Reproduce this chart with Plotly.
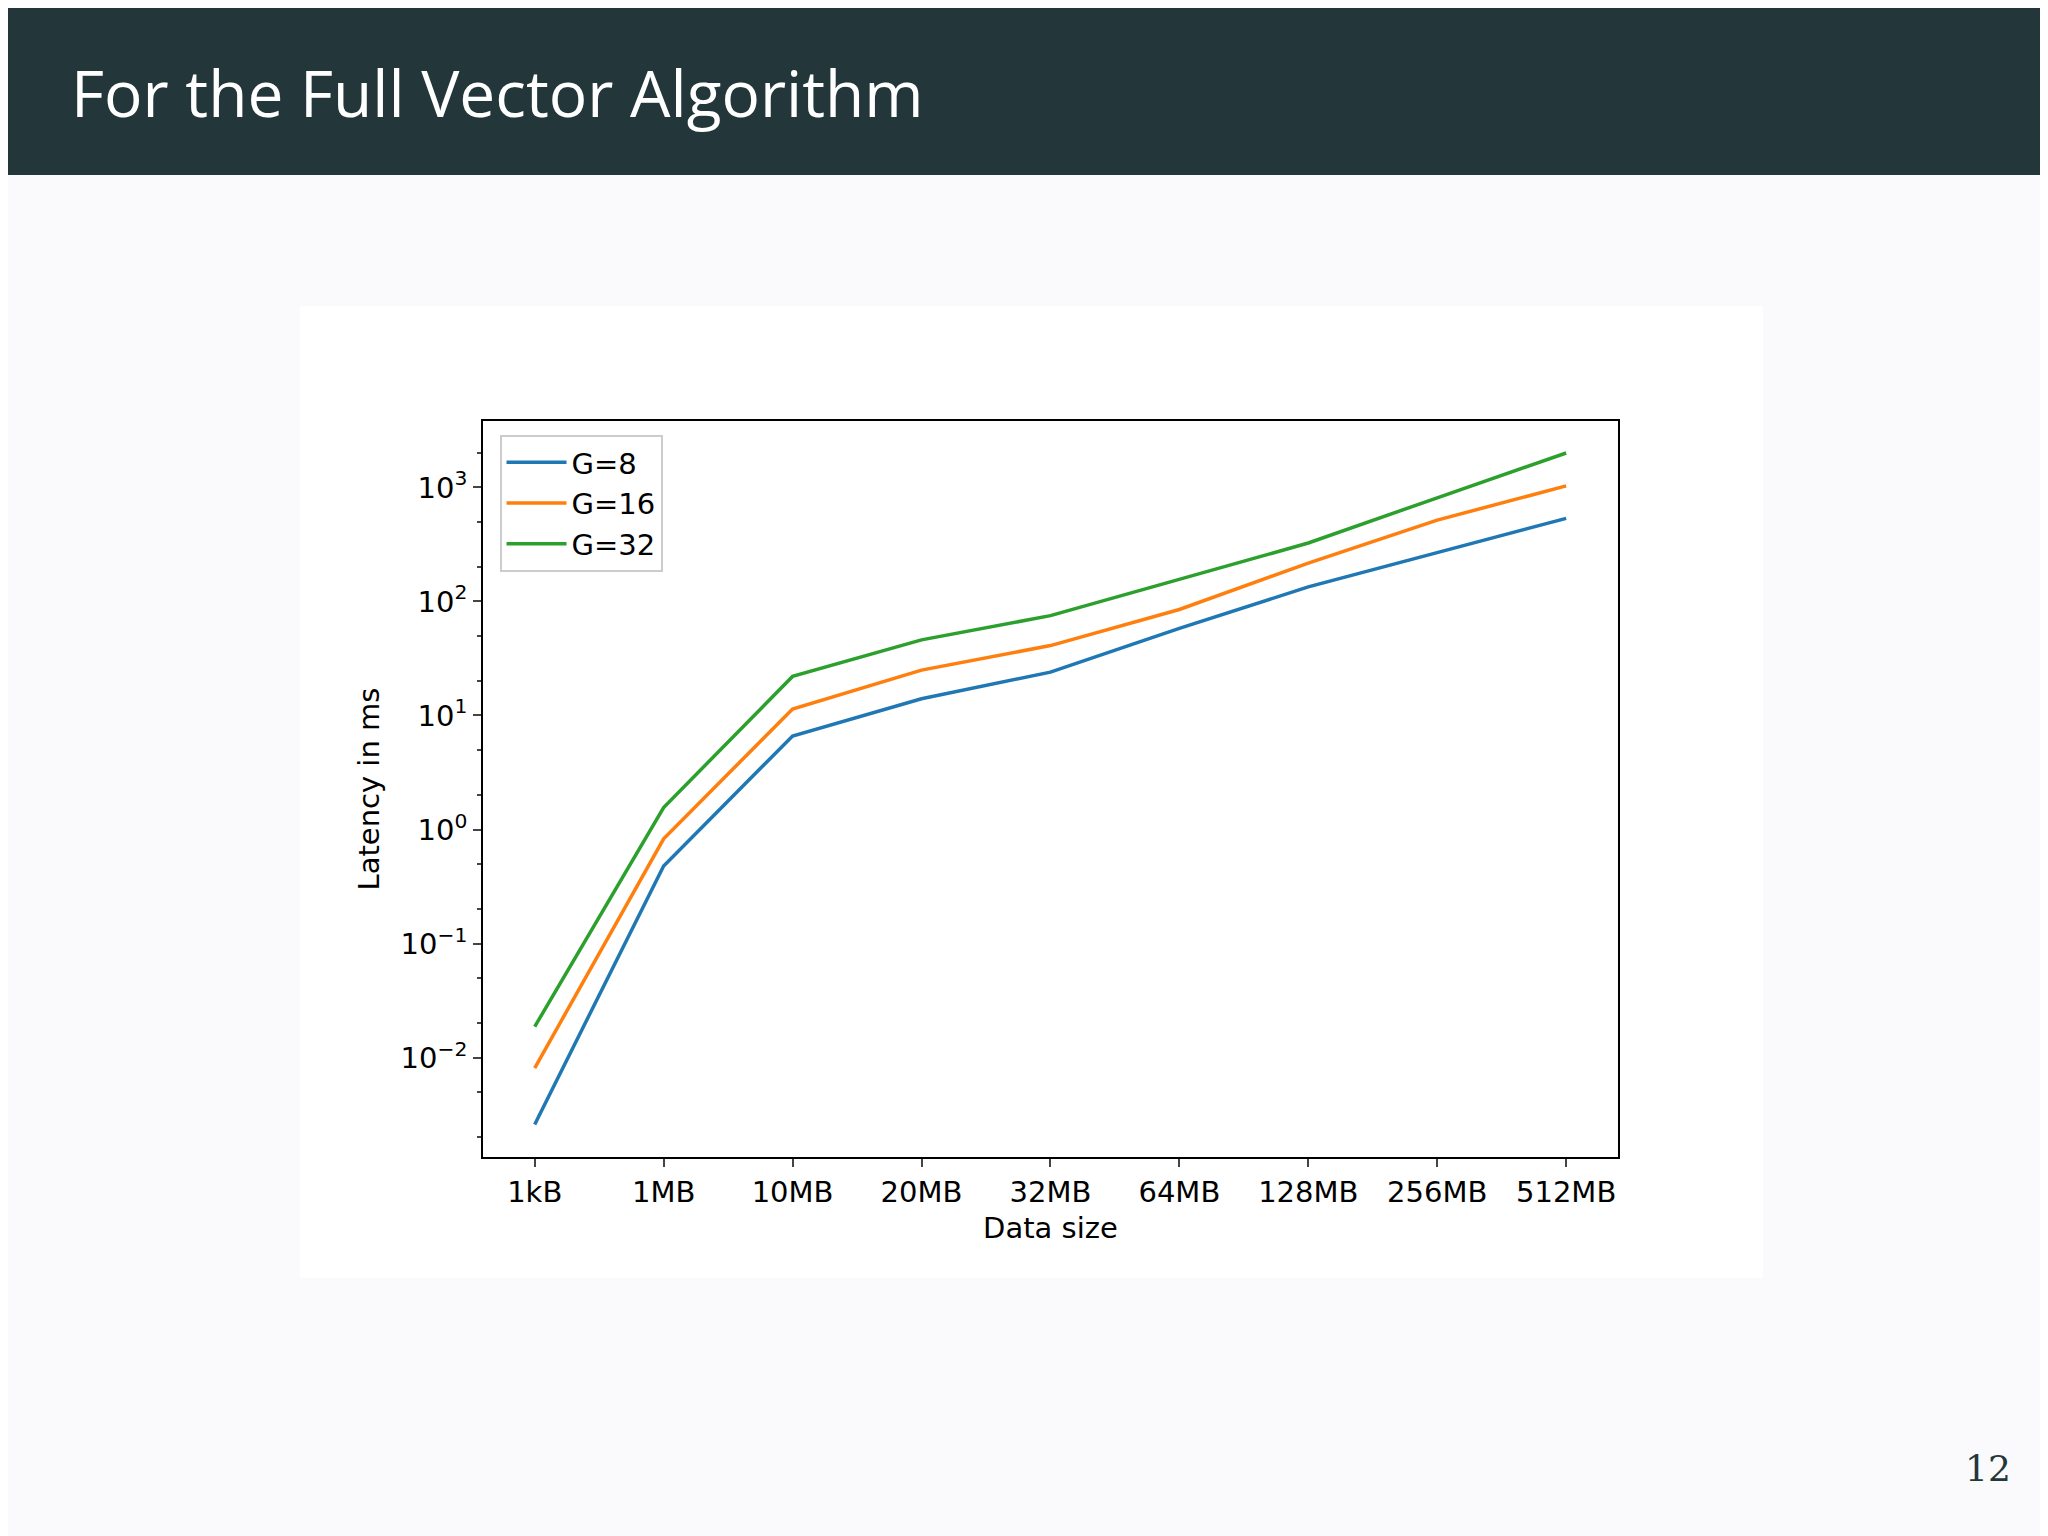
import plotly.graph_objects as go

categories = ["1kB", "1MB", "10MB", "20MB", "32MB", "64MB", "128MB", "256MB", "512MB"]
g8 = [0.0026, 0.48, 6.6, 14, 24, 58, 134, 270, 535]
g16 = [0.0081, 0.83, 11.4, 25, 41, 85, 217, 516, 1030]
g32 = [0.0187, 1.56, 22, 46, 75, 155, 325, 810, 2000]
series = [("G=8", g8, "#1f77b4"), ("G=16", g16, "#ff7f0e"), ("G=32", g32, "#2ca02c")]

fig = go.Figure()
for name, vals, col in series:
    fig.add_trace(go.Scatter(x=categories, y=vals, name=name, mode="lines",
                             line=dict(color=col, width=3.5)))

F = "DejaVu Sans"
fig.update_layout(
    width=2048, height=1536, margin=dict(l=0, r=0, t=0, b=0),
    paper_bgcolor="#fafafc", plot_bgcolor="white",
    font=dict(family=F, size=29, color="black"),
    showlegend=True,
    legend=dict(x=0.240, y=0.722, xanchor="left", yanchor="top", bgcolor="white",
                bordercolor="#cccccc", borderwidth=2, font=dict(size=29),
                itemwidth=60, tracegroupgap=8),
    xaxis=dict(domain=[0.232, 0.786], range=[-0.4, 8.4], showline=True, mirror=True,
               linecolor="black", linewidth=2, ticks="outside", ticklen=8, tickwidth=2,
               showgrid=False, title=dict(text="Data size", font=dict(size=29), standoff=10)),
    yaxis=dict(domain=[0.252, 0.731], type="log", range=[-2.87, 3.58], showline=True,
               mirror=True, linecolor="black", linewidth=2, ticks="outside", ticklen=8,
               tickwidth=2, showgrid=False,
               tickvals=[0.01, 0.1, 1, 10, 100, 1000],
               ticktext=["10<sup>−2</sup>", "10<sup>−1</sup>", "10<sup>0</sup>",
                         "10<sup>1</sup>", "10<sup>2</sup>", "10<sup>3</sup>"],
               minor=dict(ticks="outside", ticklen=4, tickwidth=1.5, showgrid=False),
               title=dict(text="Latency in ms", font=dict(size=29), standoff=12)),
    shapes=[
        dict(type="rect", xref="paper", yref="paper", x0=0, x1=1, y0=1 - 167/1536, y1=1,
             fillcolor="#23373b", line=dict(width=0), layer="below"),
        dict(type="rect", xref="paper", yref="paper", x0=292/2048, x1=1755/2048,
             y0=1 - 1270/1536, y1=1 - 298/1536, fillcolor="white", line=dict(width=0),
             layer="below"),
    ],
    annotations=[
        dict(text="For the Full Vector Algorithm", xref="paper", yref="paper",
             x=61/2048, y=1 - 85/1536, xanchor="left", yanchor="middle", showarrow=False,
             font=dict(family="Open Sans", size=64, color="white")),
        dict(text="12", xref="paper", yref="paper", x=2005/2048, y=1 - 1460/1536,
             xanchor="right", yanchor="middle", showarrow=False,
             font=dict(family="DejaVu Serif", size=36, color="#23373b")),
    ],
)
fig.write_html("out.html")
